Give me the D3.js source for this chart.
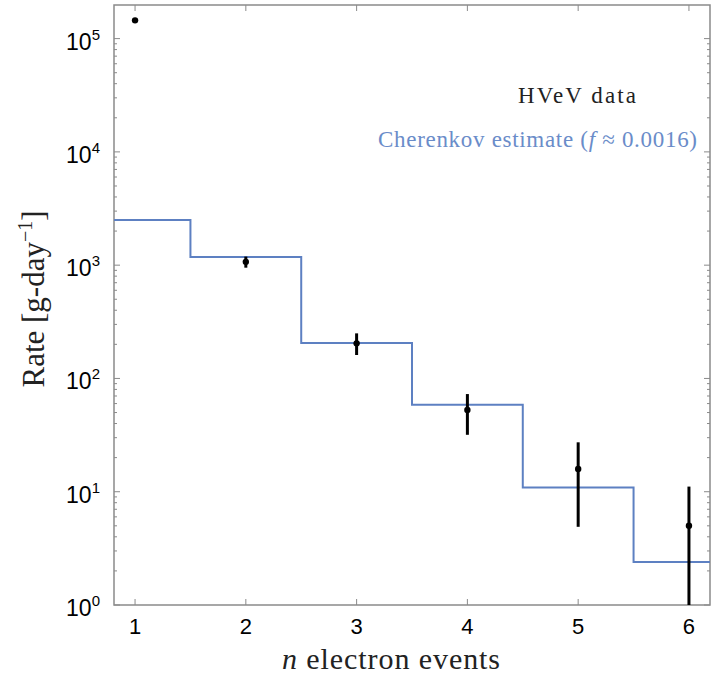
<!DOCTYPE html>
<html>
<head>
<meta charset="utf-8">
<script src="https://cdn.jsdelivr.net/npm/d3@7"></script>
<style>
  body { margin: 0; background: #fff; }
  svg { display: block; }
</style>
</head>
<body>
<div id="grafico"></div>
<script>
// data
const nEvents   = [1, 2, 3, 4, 5, 6];
const rates     = [145000, 1070, 204, 52.6, 15.9, 5.0];
const errLow    = [145000, 950, 161, 31.8, 4.9, 0.5];
const errHigh   = [145000, 1190, 250, 72.8, 27.3, 11.1];
const stepEdges = [0.5, 1.5, 2.5, 3.5, 4.5, 5.5, 6.5];
const stepLevel = [2500, 1180, 206, 58.6, 10.9, 2.4];
const xTicks    = [1, 2, 3, 4, 5, 6];
const yDecades  = [0, 1, 2, 3, 4, 5];

const margin = { top: 5, left: 114, bottom: 69, right: 1 };
const width  = 711 - margin.left - margin.right;
const height = 674 - margin.top - margin.bottom;

const blue = "#5d80c2";
const frame = "#8a8a8a";
const serif = "Liberation Serif, DejaVu Serif, serif";

const svg = d3.select("#grafico")
              .append("svg")
              .attr("width", 711)
              .attr("height", 674)
              .append("g")
              .attr("transform", `translate(${margin.left}, ${margin.top})`);

const xScale = d3.scaleLinear()
                 .domain([0.81, 6.19])
                 .range([0, width]);

const yScale = d3.scaleLog()
                 .domain([1, 1.98e5])
                 .range([height, 0]);

svg.append("defs").append("clipPath")
   .attr("id", "clip")
   .append("rect")
   .attr("width", width)
   .attr("height", height);

// minor ticks on log axis
const minor = [];
yDecades.forEach(p => {
    for (let k = 2; k <= 9; k++) {
        const v = k * Math.pow(10, p);
        if (v < 1.98e5) minor.push(v);
    }
});

const ticks = svg.append("g").attr("stroke", frame).attr("stroke-width", 1);

yDecades.forEach(p => {
    const y = yScale(Math.pow(10, p));
    ticks.append("line").attr("x1", 0).attr("x2", 6).attr("y1", y).attr("y2", y);
    ticks.append("line").attr("x1", width).attr("x2", width - 6).attr("y1", y).attr("y2", y);
});
minor.forEach(v => {
    const y = yScale(v);
    ticks.append("line").attr("x1", 0).attr("x2", 3).attr("y1", y).attr("y2", y);
    ticks.append("line").attr("x1", width).attr("x2", width - 3).attr("y1", y).attr("y2", y);
});
xTicks.forEach(t => {
    const x = xScale(t);
    ticks.append("line").attr("x1", x).attr("x2", x).attr("y1", height).attr("y2", height - 6);
    ticks.append("line").attr("x1", x).attr("x2", x).attr("y1", 0).attr("y2", 6);
});

svg.append("rect")
   .attr("width", width)
   .attr("height", height)
   .attr("fill", "none")
   .attr("stroke", frame)
   .attr("stroke-width", 1.5);

// tick labels
svg.append("g")
   .selectAll("text")
   .data(xTicks)
   .join("text")
   .attr("x", d => xScale(d))
   .attr("y", height + 29)
   .attr("text-anchor", "middle")
   .attr("font-family", "Liberation Sans, Arial, sans-serif")
   .attr("font-size", "22px")
   .text(d => d);

const yl = svg.append("g")
   .selectAll("text")
   .data(yDecades)
   .join("text")
   .attr("x", -14)
   .attr("y", d => yScale(Math.pow(10, d)) + 11)
   .attr("text-anchor", "end")
   .attr("font-family", "Liberation Sans, Arial, sans-serif")
   .attr("font-size", "23px");
yl.append("tspan").text("10");
yl.append("tspan")
  .attr("dy", -10)
  .attr("font-size", "15px")
  .text(d => d);

// step estimate
const stepData = stepLevel.map((v, i) => ({ x0: stepEdges[i], x1: stepEdges[i + 1], v }));
const stepLine = d3.line()
                   .x(d => xScale(d[0]))
                   .y(d => yScale(d[1]));
const pts = [];
stepData.forEach(d => { pts.push([d.x0, d.v]); pts.push([d.x1, d.v]); });

svg.append("path")
   .attr("clip-path", "url(#clip)")
   .attr("d", stepLine(pts))
   .attr("fill", "none")
   .attr("stroke", blue)
   .attr("stroke-width", 2);

// data points with error bars
const data = nEvents.map((n, i) => ({ n, r: rates[i], lo: errLow[i], hi: errHigh[i] }));
const marks = svg.append("g").attr("clip-path", "url(#clip)");
marks.selectAll("line")
     .data(data)
     .join("line")
     .attr("x1", d => xScale(d.n))
     .attr("x2", d => xScale(d.n))
     .attr("y1", d => yScale(d.lo))
     .attr("y2", d => yScale(d.hi))
     .attr("stroke", "#000")
     .attr("stroke-width", 3);
marks.selectAll("circle")
     .data(data)
     .join("circle")
     .attr("cx", d => xScale(d.n))
     .attr("cy", d => yScale(d.r))
     .attr("r", 3.2)
     .attr("fill", "#000");

// legend
svg.append("text")
   .attr("x", 404)
   .attr("y", 98)
   .attr("textLength", 118)
   .attr("lengthAdjust", "spacing")
   .attr("font-family", serif)
   .attr("font-size", "23px")
   .attr("fill", "#222")
   .text("HVeV data");

const leg = svg.append("text")
   .attr("x", 264)
   .attr("y", 142)
   .attr("textLength", 319)
   .attr("lengthAdjust", "spacing")
   .attr("font-family", serif)
   .attr("font-size", "23px")
   .attr("fill", "#6a8cc9");
leg.append("tspan").text("Cherenkov estimate (");
leg.append("tspan").attr("font-style", "italic").text("f");
leg.append("tspan").text(" \u2248 0.0016)");

// axis titles
const yt = svg.append("text")
   .attr("transform", "rotate(-90)")
   .attr("x", -(height / 2) + 6)
   .attr("y", -margin.left + 44)
   .attr("text-anchor", "middle")
   .attr("font-family", serif)
   .attr("font-size", "31px")
   .attr("fill", "#222");
yt.append("tspan").text("Rate [g-day");
yt.append("tspan").attr("dy", -12).attr("font-size", "20px").text("\u22121");
yt.append("tspan").attr("dy", 12).text("]");

const xt = svg.append("text")
   .attr("x", 168)
   .attr("y", height + 64)
   .attr("textLength", 218)
   .attr("lengthAdjust", "spacing")
   .attr("font-family", serif)
   .attr("font-size", "30px")
   .attr("fill", "#222");
xt.append("tspan").attr("font-style", "italic").text("n");
xt.append("tspan").text(" electron events");
</script>
</body>
</html>
